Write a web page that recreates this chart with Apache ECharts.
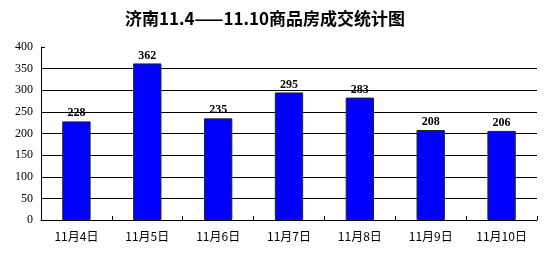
<!DOCTYPE html>
<html><head><meta charset="utf-8">
<script src="https://cdn.jsdelivr.net/npm/echarts@6/dist/echarts.min.js"></script>
<style>html,body{margin:0;padding:0;background:#fff}#c{width:550px;height:253px}</style>
</head><body><div id="c"></div>
<script>
const titleText = '济南11.4——11.10商品房成交统计图';
const categories = ['11月4日','11月5日','11月6日','11月7日','11月8日','11月9日','11月10日'];
const values = [228, 362, 235, 295, 283, 208, 206];
const yMin = 0, yMax = 400, yInterval = 50;
const gridValues = [50, 100, 150, 200, 250, 300, 350];

const chart = echarts.init(document.getElementById('c'), null, {renderer:'canvas'});
chart.setOption({
  animation: false,
  backgroundColor: '#fff',
  title: {
    text: titleText, left: 260, top: 5, textAlign: 'center',
    textStyle: {fontFamily: '"Noto Sans CJK SC", serif', fontSize: 17, fontWeight: 'bold', color: '#000'}
  },
  grid: {left: 41, right: 13, top: 47, bottom: 33, containLabel: false},
  xAxis: {
    type: 'category', data: categories,
    axisLine: {lineStyle: {color: '#000', width: 1}},
    axisTick: {show: true, inside: true, length: 4, lineStyle: {color: '#000'}},
    axisLabel: {color: '#000', fontSize: 12, margin: 10, fontFamily: '"Noto Sans CJK SC", sans-serif'}
  },
  yAxis: {
    type: 'value', min: yMin, max: yMax, interval: yInterval,
    axisLine: {show: true, lineStyle: {color: '#000', width: 1}},
    axisTick: {show: true, inside: true, length: 4, lineStyle: {color: '#000'}},
    axisLabel: {color: '#000', fontSize: 12, margin: 8, fontFamily: '"Liberation Serif", serif'},
    splitLine: {show: false}
  },
  series: [{
    type: 'bar', data: values, barWidth: '40%', z: 3,
    itemStyle: {color: '#0000ff', borderColor: '#222', borderWidth: 1},
    label: {show: true, position: 'top', distance: 2, color: '#000', fontSize: 12, fontWeight: 'bold',
      fontFamily: '"Liberation Serif", serif'},
    markLine: {
      silent: true, symbol: ['none','none'], z: 1,
      label: {show: false},
      lineStyle: {color: '#000', width: 1, type: 'solid'},
      data: gridValues.map(v => ({yAxis: v}))
    }
  }]
});
</script></body></html>
